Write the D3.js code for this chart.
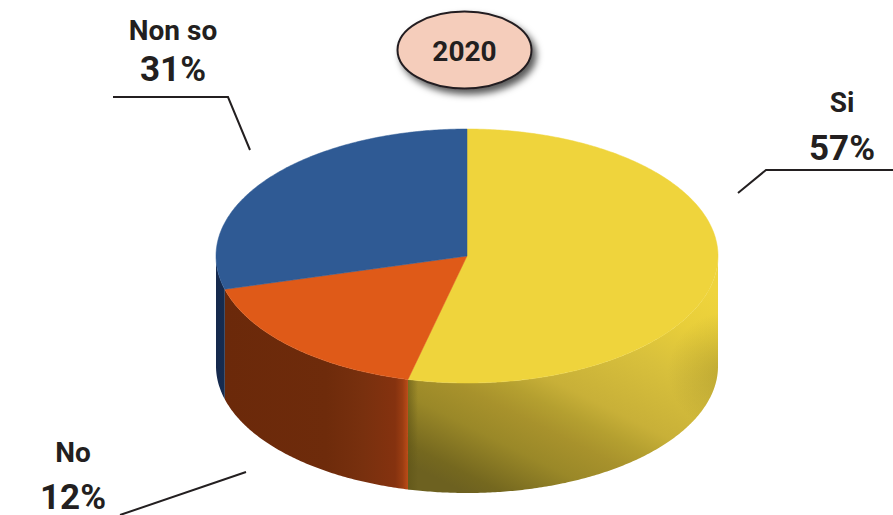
<!DOCTYPE html>
<html>
<head>
<meta charset="utf-8">
<style>
  html, body { margin: 0; padding: 0; background: #fff; }
  svg { display: block; }
  text { font-family: Roboto, "Noto Sans", sans-serif; font-weight: 700; fill: #231f20; text-anchor: middle; }
</style>
<script src="https://cdnjs.cloudflare.com/ajax/libs/d3/7.8.5/d3.min.js"></script>
</head>
<body>
<script>
const title = "2020";
const categories = ["Si", "No", "Non so"];
const shares = [57, 12, 31];
const topColors = ["#EFD43C", "#DF5A18", "#2F5A94"];

const width = 893, height = 515;
const cx = 467, cy = 256, rx = 251, ry = 127, depth = 110;
const TAU = 2 * Math.PI;

const svg = d3.select("body").append("svg")
  .attr("width", width).attr("height", height).attr("viewBox", [0, 0, width, height]);

const defs = svg.append("defs");

function addStops(g, stops) {
  stops.forEach(([o, c, a]) => g.append("stop").attr("offset", o).attr("stop-color", c).attr("stop-opacity", a === undefined ? 1 : a));
}
function linearGradient(id, x1, y1, x2, y2, stops) {
  addStops(defs.append("linearGradient").attr("id", id)
    .attr("gradientUnits", "userSpaceOnUse")
    .attr("x1", x1).attr("y1", y1).attr("x2", x2).attr("y2", y2), stops);
}

linearGradient("wall-yellow", 700, 285, 570, 545, [
  [0, "#EFD43C"], [0.15, "#E8CE3A"], [0.31, "#D8C03C"], [0.52, "#C8B038"], [0.6, "#B5A030"], [0.68, "#A8922C"], [0.79, "#9A8828"], [0.94, "#75681F"], [1, "#6D6120"]
]);
linearGradient("wall-yellow-left", 408, 0, 418, 0, [
  [0, "#5c5216", 0.55], [1, "#5c5216", 0]
]);
// Shading that darkens the wall towards its lower right turn.
addStops(defs.append("radialGradient").attr("id", "wall-yellow-right")
  .attr("gradientUnits", "userSpaceOnUse")
  .attr("cx", 728).attr("cy", 372).attr("r", 60), [
  [0, "#6b5f1f", 0.3], [1, "#6b5f1f", 0]
]);
linearGradient("wall-orange", 225, 0, 408, 0, [
  [0, "#6B290A"], [0.55, "#6E2B0B"], [0.75, "#78300E"], [0.93, "#85320F"], [0.97, "#9A3D12"], [1, "#BC4C18"]
]);
linearGradient("wall-blue", 216, 0, 225, 0, [[0, "#16294D"], [1, "#152C50"]]);

const shadow = defs.append("filter").attr("id", "badge-shadow")
  .attr("x", "-30%").attr("y", "-30%").attr("width", "170%").attr("height", "170%");
shadow.append("feDropShadow").attr("dx", 4).attr("dy", 5).attr("stdDeviation", 3.5)
  .attr("flood-color", "#000").attr("flood-opacity", 0.65);

// Slice angles, then the foreshortening of the tilted disc applied on top of them.
const pie = d3.pie().sort(null).value(d => d).startAngle(0).endAngle(TAU);
const arcs = pie(shares);
const toScreenAngle = d3.scaleLinear()
  .domain([0, arcs[0].endAngle, arcs[1].endAngle, TAU])
  .range([0, 193.6, 254.8, 360].map(d => d * Math.PI / 180));

const xAt = a => cx + rx * Math.sin(a);
const yAt = a => cy - ry * Math.cos(a);

const line = d3.line();
const sweep = (a0, a1, dy = 0) => {
  const n = Math.max(2, Math.ceil(Math.abs(a1 - a0) / 0.01));
  return d3.range(n + 1).map(i => {
    const a = a0 + (a1 - a0) * i / n;
    return [xAt(a), yAt(a) + dy];
  });
};

const slices = arcs.map((d, i) => ({
  a0: toScreenAngle(d.startAngle), a1: toScreenAngle(d.endAngle), color: topColors[i], name: categories[i]
}));

// Side wall: only the part of each slice facing the viewer (90 to 270 degrees).
const wallSpan = s => [Math.max(s.a0, Math.PI / 2), Math.min(s.a1, 1.5 * Math.PI)];
const wallPath = s => {
  const [a0, a1] = wallSpan(s);
  return line([...sweep(a0, a1), ...sweep(a1, a0, depth)]) + "Z";
};

const wallFills = [
  ["url(#wall-yellow)", "url(#wall-yellow-left)", "url(#wall-yellow-right)"],
  ["url(#wall-orange)"],
  ["url(#wall-blue)"]
];
const walls = svg.append("g");
slices.forEach((s, i) => {
  wallFills[i].forEach(f => walls.append("path").attr("d", wallPath(s)).attr("fill", f));
});

// Top face of the disc.
svg.append("g").selectAll("path").data(slices).join("path")
  .attr("d", s => line([[cx, cy], ...sweep(s.a0, s.a1)]) + "Z")
  .attr("fill", s => s.color)
  .attr("stroke", s => s.color)
  .attr("stroke-width", 0.5);

// Leader lines from each label towards the disc.
const leaders = [
  [[738, 193], [766, 170], [893, 170]],
  [[246, 472], [120, 515]],
  [[113, 97], [228, 97], [250, 150]]
];
svg.append("g").selectAll("path").data(leaders).join("path")
  .attr("d", d => line(d))
  .attr("fill", "none").attr("stroke", "#231f20").attr("stroke-width", 2);

// Category name and percentage.
const labelSpots = [
  { x: 842, nameY: 112, valueY: 160 },
  { x: 73, nameY: 462, valueY: 509 },
  { x: 173, nameY: 40, valueY: 81 }
];
const labels = svg.append("g").selectAll("g").data(labelSpots).join("g");
labels.append("text").attr("x", d => d.x).attr("y", d => d.nameY)
  .attr("font-size", 28).text((d, i) => categories[i]);
labels.append("text").attr("x", d => d.x).attr("y", d => d.valueY)
  .attr("font-size", 35).text((d, i) => shares[i] + "%");

// Year badge.
svg.append("ellipse").attr("cx", 464.5).attr("cy", 50).attr("rx", 67).attr("ry", 38.5)
  .attr("fill", "#F5CDBB").attr("stroke", "#231f20").attr("stroke-width", 2)
  .attr("filter", "url(#badge-shadow)");
svg.append("text").attr("x", 464.5).attr("y", 61).attr("font-size", 28).text(title);
</script>
</body>
</html>
